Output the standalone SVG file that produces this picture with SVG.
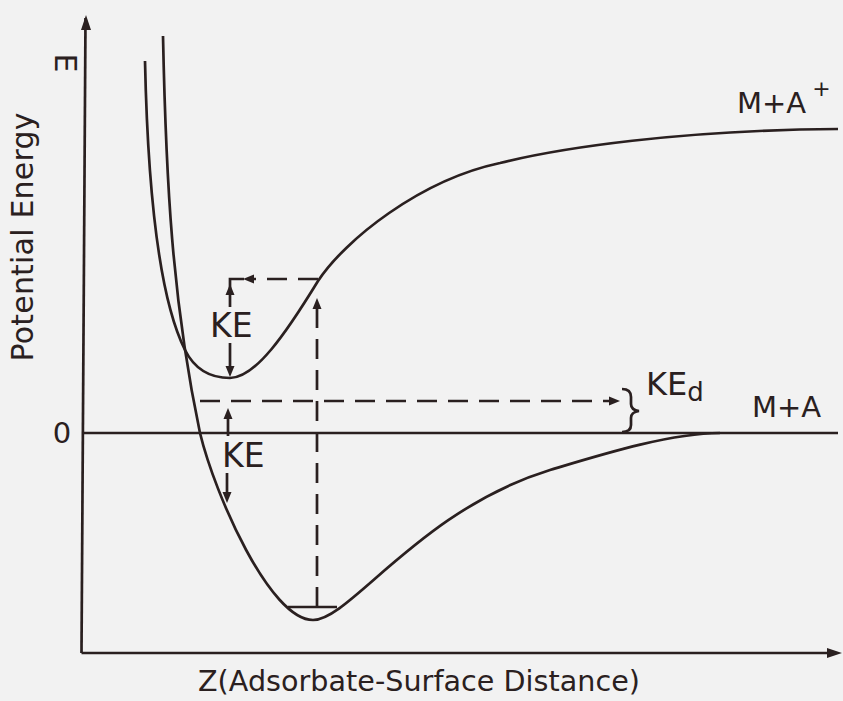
<svg xmlns="http://www.w3.org/2000/svg" width="843" height="701" viewBox="0 0 843 701">
<defs>
<style>
.ln{fill:none;stroke:#2a2020;stroke-width:2.7;stroke-linecap:butt}
.ds{fill:none;stroke:#2a2020;stroke-width:2.7;stroke-dasharray:20 11}
.tx{font-family:"DejaVu Sans",sans-serif;fill:#2a2020}
.ah{fill:#2a2020}
</style>
<path id="ah" d="M0,0 L-11,-4.5 L-11,4.5 z"/>
<path id="axh" d="M0,0 L-15,-5 L-15,5 z"/>
</defs>
<rect width="843" height="701" fill="#f2f2f2"/>
<g id="axes">
<path class="ln" d="M81.5,653 L85.5,18"/>
<path class="ln" d="M81.5,653 H830"/>
<path class="ln" d="M83,433 H838"/>
<use href="#axh" class="ah" transform="translate(86,15) rotate(-90)"/>
<use href="#axh" class="ah" transform="translate(842,653)"/>
</g>
<g id="curve-ion">
<path class="ln" d="M145,61 C148,200 160,300 185,350 C195,370 210,378 230,378 C255,378 285,335 318,281 C345,240 420,180 500,163 C560,148 680,130 838,129"/>
</g>
<g id="curve-neutral">
<path class="ln" d="M163,36 C166,180 172,300 200,433 C215,495 270,620 313,620 C350,620 420,510 550,470 C600,455 670,433 720,433"/>
</g>
<g id="connectors">
<path class="ds" d="M318,279 H252"/>
<path class="ln" d="M230,307 V279 H244"/>
<use href="#ah" class="ah" transform="translate(243,279) rotate(180)"/>
<use href="#ah" class="ah" transform="translate(230,284) rotate(-90)"/>
<path class="ln" d="M230,343 V370"/>
<use href="#ah" class="ah" transform="translate(230,377) rotate(90)"/>
<path class="ds" d="M200,401 H612"/>
<use href="#ah" class="ah" transform="translate(620,401)"/>
<path class="ln" d="M228,414 V436"/>
<use href="#ah" class="ah" transform="translate(228,408) rotate(-90)"/>
<path class="ln" d="M227,473 V496"/>
<use href="#ah" class="ah" transform="translate(227,503) rotate(90)"/>
<path class="ds" d="M317,607 V305"/>
<use href="#ah" class="ah" transform="translate(317,298) rotate(-90)"/>
<path class="ln" d="M288,607 H337"/>
<path class="ln" d="M622,389 Q631,389 631,397 L631,404 Q631,410 639,411 Q631,412 631,418 L631,425 Q631,432 622,432"/>
</g>
<g id="labels">
<text class="tx" font-size="30" transform="translate(33,237) rotate(-90)" text-anchor="middle" textLength="249">Potential Energy</text>
<text class="tx" font-size="30" transform="translate(55,63) rotate(90)" text-anchor="middle">E</text>
<text class="tx" font-size="29" x="62" y="443" text-anchor="middle">0</text>
<text class="tx" font-size="33" x="210" y="337">KE</text>
<text class="tx" font-size="33" x="222" y="467">KE</text>
<text class="tx" font-size="32" x="646" y="395">KE<tspan font-size="26" dy="6">d</tspan></text>
<text class="tx" font-size="29" x="737" y="113">M+A<tspan font-size="22" dx="6" dy="-17">+</tspan></text>
<text class="tx" font-size="29" x="752" y="417">M+A</text>
<text class="tx" font-size="28.6" x="198" y="691" textLength="442">Z(Adsorbate-Surface Distance)</text>
</g>
</svg>
